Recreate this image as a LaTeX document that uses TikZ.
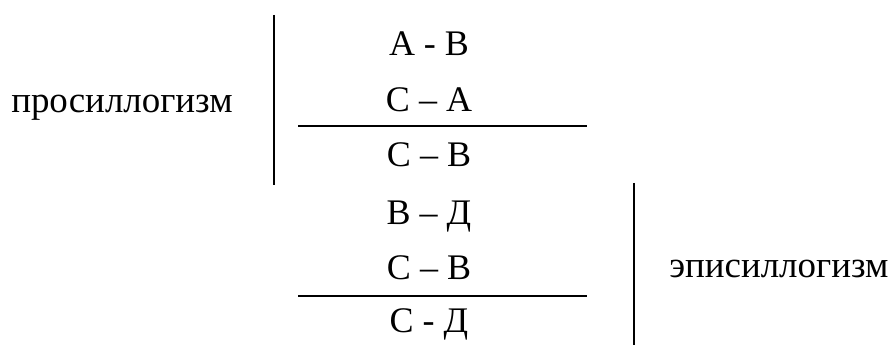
\documentclass[tikz,border=0pt]{standalone}
\usepackage{fontspec}
\setmainfont{Liberation Serif}
\begin{document}
\begin{tikzpicture}[x=0.75pt,y=-0.75pt,
  formula/.style={anchor=base,inner sep=0pt,font=\fontsize{27}{32}\selectfont},
  label/.style={anchor=base west,inner sep=0pt,font=\fontsize{27.7}{32}\selectfont},
  rule/.style={line width=1.5pt}]
\useasboundingbox (0,0) rectangle (893,345);
\node[label] (pro) at (11,113) {просиллогизм};
\node[label] (epi) at (669,278) {эписиллогизм};
\node[formula] (f1) at (429,56) {А - В};
\node[formula] (f2) at (429,112) {С – А};
\node[formula] (f3) at (429,167) {С – В};
\node[formula] (f4) at (429,225) {В – Д};
\node[formula] (f5) at (429,280) {С – В};
\node[formula] (f6) at (429,333) {С - Д};
\coordinate (v1a) at (274,15);
\coordinate (v1b) at (274,185);
\coordinate (h1a) at (298,126);
\coordinate (h1b) at (587,126);
\coordinate (h2a) at (298,296);
\coordinate (h2b) at (587,296);
\coordinate (v2a) at (634,183);
\coordinate (v2b) at (634,345);
\draw[rule] (v1a) -- (v1b);
\draw[rule] (h1a) -- (h1b);
\draw[rule] (h2a) -- (h2b);
\draw[rule] (v2a) -- (v2b);
\end{tikzpicture}
\end{document}
